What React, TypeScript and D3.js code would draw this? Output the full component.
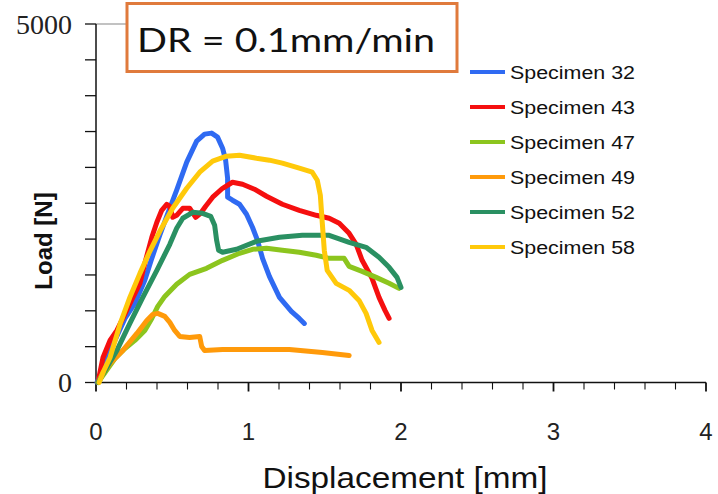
// App.tsx
import React, { useRef, useEffect } from "react";
import * as d3 from "d3";

const WIDTH = 718;
const HEIGHT = 494;

// displacement [mm], load [N]
const spec32: [number, number][] = [
  [0.007, 0], [0.059, 279], [0.124, 587], [0.19, 894], [0.255, 1103], [0.32, 1425],
  [0.366, 1732], [0.418, 2053], [0.471, 2360], [0.529, 2682], [0.595, 3073], [0.66, 3366],
  [0.712, 3464], [0.758, 3478], [0.797, 3422], [0.83, 3268], [0.85, 3101], [0.863, 2849],
  [0.863, 2584], [0.895, 2542], [0.941, 2486], [0.987, 2346], [1.026, 2165], [1.059, 1983],
  [1.092, 1732], [1.137, 1480], [1.203, 1187], [1.281, 992], [1.333, 894], [1.366, 824],
];

const spec43: [number, number][] = [
  [0.013, 0], [0.026, 140], [0.046, 349], [0.092, 587], [0.137, 726], [0.176, 894],
  [0.242, 1187], [0.288, 1383], [0.32, 1662], [0.366, 2025], [0.399, 2235], [0.431, 2402],
  [0.464, 2486], [0.484, 2458], [0.503, 2304], [0.529, 2332], [0.569, 2430], [0.614, 2430],
  [0.654, 2304], [0.686, 2360], [0.719, 2458], [0.765, 2584], [0.83, 2709], [0.895, 2793],
  [0.961, 2765], [1.039, 2696], [1.118, 2598], [1.222, 2486], [1.333, 2402], [1.444, 2332],
  [1.529, 2291], [1.595, 2221], [1.66, 2081], [1.706, 1927], [1.745, 1704], [1.81, 1453],
  [1.856, 1187], [1.895, 1006], [1.922, 894],
];

const spec47: [number, number][] = [
  [0.013, 0], [0.059, 140], [0.124, 335], [0.19, 475], [0.255, 587], [0.32, 726],
  [0.366, 894], [0.405, 1061], [0.451, 1201], [0.529, 1369], [0.614, 1508], [0.725, 1592],
  [0.83, 1704], [0.941, 1802], [1.026, 1858], [1.118, 1872], [1.222, 1844], [1.333, 1816],
  [1.444, 1774], [1.529, 1732], [1.627, 1732], [1.66, 1620], [1.745, 1550], [1.837, 1466],
  [1.922, 1383], [1.987, 1313],
];

const spec49: [number, number][] = [
  [0.013, 0], [0.046, 140], [0.092, 265], [0.176, 447], [0.268, 684], [0.333, 866],
  [0.373, 950], [0.405, 964], [0.451, 922], [0.484, 838], [0.516, 726], [0.549, 642],
  [0.614, 628], [0.68, 642], [0.693, 503], [0.712, 447], [0.83, 461], [1.052, 461],
  [1.268, 461], [1.484, 419], [1.66, 377],
];

const spec52: [number, number][] = [
  [0.013, 0], [0.059, 168], [0.137, 447], [0.222, 824], [0.307, 1187], [0.399, 1564],
  [0.484, 1927], [0.529, 2151], [0.569, 2291], [0.634, 2374], [0.699, 2360], [0.752, 2318],
  [0.778, 2193], [0.791, 1983], [0.804, 1844], [0.83, 1816], [0.922, 1858], [1.052, 1969],
  [1.203, 2025], [1.353, 2053], [1.529, 2053], [1.66, 1955], [1.771, 1885], [1.856, 1746],
  [1.922, 1606], [1.974, 1466], [2.0, 1327],
];

const spec58: [number, number][] = [
  [0.02, 0], [0.052, 168], [0.092, 349], [0.157, 810], [0.222, 1187], [0.288, 1522],
  [0.353, 1830], [0.418, 2109], [0.503, 2430], [0.595, 2709], [0.68, 2933], [0.765, 3087],
  [0.856, 3156], [0.941, 3170], [1.052, 3128], [1.137, 3101], [1.222, 3059], [1.333, 2989],
  [1.418, 2933], [1.451, 2821], [1.471, 2612], [1.484, 2221], [1.497, 1844], [1.516, 1564],
  [1.575, 1383], [1.66, 1285], [1.725, 1145], [1.771, 964], [1.81, 726], [1.856, 559],
];

const seriesNames = ["Specimen 32", "Specimen 43", "Specimen 47", "Specimen 49", "Specimen 52", "Specimen 58"];
const seriesData = [spec32, spec43, spec47, spec49, spec52, spec58];
const seriesColors = ["#2f6af2", "#f50f0f", "#8cc51e", "#ff9a0a", "#2a9062", "#ffc90a"];

const xTicks = [0, 1, 2, 3, 4];
const yTickLabels = [0, 5000];

export default function App() {
  const svgRef = useRef<SVGSVGElement>(null);

  useEffect(() => {
    const svg = d3.select(svgRef.current);
    svg.selectAll("*").remove();

    const x = d3.scaleLinear().domain([0, 4]).range([96, 706]);
    const y = d3.scaleLinear().domain([0, 5000]).range([382.5, 24]);

    svg.append("rect").attr("width", WIDTH).attr("height", HEIGHT).attr("fill", "#fff");

    // little gray top border piece
    svg.append("line")
      .attr("x1", x(0)).attr("x2", 126)
      .attr("y1", y(5000)).attr("y2", y(5000))
      .attr("stroke", "#999").attr("stroke-width", 1.2);

    // y ticks every 500
    svg.append("g")
      .selectAll("line")
      .data(d3.range(0, 5001, 500))
      .join("line")
      .attr("x1", x(0) - 11).attr("x2", x(0))
      .attr("y1", (d) => y(d)).attr("y2", (d) => y(d))
      .attr("stroke", "#111").attr("stroke-width", 1.3);

    // x ticks every 0.2
    svg.append("g")
      .selectAll("line")
      .data(d3.range(0, 21).map((i) => i * 0.2))
      .join("line")
      .attr("x1", (d) => x(d)).attr("x2", (d) => x(d))
      .attr("y1", y(0)).attr("y2", (d) => y(0) + (Math.abs(d - Math.round(d)) < 1e-6 ? 9 : 7))
      .attr("stroke", "#111")
      .attr("stroke-width", (d) => (Math.abs(d - Math.round(d)) < 1e-6 ? 1.8 : 1.1));

    // axis lines
    svg.append("line")
      .attr("x1", x(0)).attr("x2", x(0)).attr("y1", y(5000)).attr("y2", y(0))
      .attr("stroke", "#111").attr("stroke-width", 1.5);
    svg.append("line")
      .attr("x1", x(0)).attr("x2", x(4)).attr("y1", y(0)).attr("y2", y(0))
      .attr("stroke", "#111").attr("stroke-width", 1.5);

    // y tick labels (serif)
    svg.append("g")
      .selectAll("text")
      .data(yTickLabels)
      .join("text")
      .attr("x", 72)
      .attr("y", (d) => y(d) + 9.5)
      .attr("text-anchor", "end")
      .attr("font-family", "'Liberation Serif', 'Times New Roman', 'DejaVu Serif', serif")
      .attr("font-size", 28)
      .attr("fill", "#222")
      .text((d) => d);

    // x tick labels
    svg.append("g")
      .selectAll("text")
      .data(xTicks)
      .join("text")
      .attr("x", (d) => x(d))
      .attr("y", 440)
      .attr("text-anchor", "middle")
      .attr("font-family", "'Liberation Sans Narrow', 'Liberation Sans', Arial, sans-serif")
      .attr("font-size", 24)
      .attr("fill", "#222")
      .text((d) => d);

    // axis titles
    svg.append("text")
      .attr("x", 405)
      .attr("y", 488)
      .attr("text-anchor", "middle")
      .attr("font-family", "'Liberation Sans', Arial, sans-serif")
      .attr("font-size", 29)
      .attr("textLength", 285)
      .attr("lengthAdjust", "spacingAndGlyphs")
      .attr("fill", "#111")
      .text("Displacement [mm]");

    svg.append("text")
      .attr("transform", "translate(52,241) rotate(-90)")
      .attr("text-anchor", "middle")
      .attr("font-family", "'Liberation Sans', Arial, sans-serif")
      .attr("font-weight", 700)
      .attr("font-size", 24)
      .attr("fill", "#111")
      .text("Load [N]");

    // curves
    const line = d3.line<[number, number]>()
      .x((d) => x(d[0]))
      .y((d) => y(d[1]));

    svg.append("g")
      .selectAll("path")
      .data(seriesData)
      .join("path")
      .attr("d", (d) => line(d))
      .attr("fill", "none")
      .attr("stroke", (_, i) => seriesColors[i])
      .attr("stroke-width", 5)
      .attr("stroke-linejoin", "round")
      .attr("stroke-linecap", "round");

    // legend
    const legend = svg.append("g")
      .selectAll("g")
      .data(seriesNames)
      .join("g")
      .attr("transform", (_, i) => `translate(470, ${72 + i * 35})`);

    legend.append("line")
      .attr("x1", 0).attr("x2", 35)
      .attr("stroke", (_, i) => seriesColors[i])
      .attr("stroke-width", 4);

    legend.append("text")
      .attr("x", 40)
      .attr("y", 7)
      .attr("font-family", "'Liberation Sans', Arial, sans-serif")
      .attr("font-size", 18)
      .attr("textLength", 125)
      .attr("lengthAdjust", "spacingAndGlyphs")
      .attr("fill", "#111")
      .text((d) => d);

    // title box
    svg.append("rect")
      .attr("x", 127).attr("y", 3.5)
      .attr("width", 330).attr("height", 68)
      .attr("fill", "#fff")
      .attr("stroke", "#e07a3c")
      .attr("stroke-width", 3);

    svg.append("text")
      .attr("x", 137)
      .attr("y", 52)
      .attr("font-family", "Lato, 'Open Sans', sans-serif")
      .attr("font-size", 32)
      .attr("textLength", 298)
      .attr("lengthAdjust", "spacingAndGlyphs")
      .attr("fill", "#111")
      .text("DR = 0.1mm/min");
  }, []);

  return (
    <svg
      ref={svgRef}
      width={WIDTH}
      height={HEIGHT}
      style={{ position: "absolute", left: 0, top: 0 }}
    />
  );
}
